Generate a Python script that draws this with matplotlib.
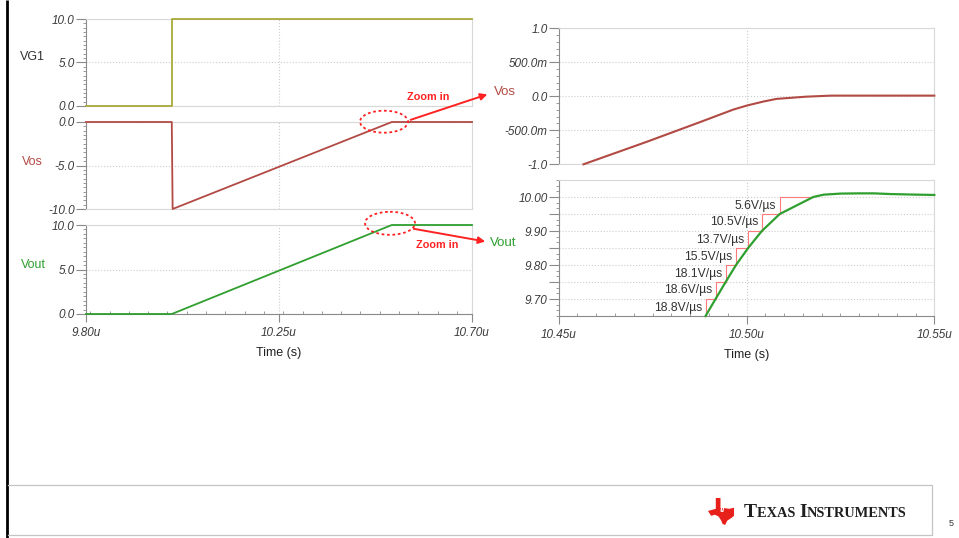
import numpy as np
import matplotlib
matplotlib.use("Agg")
import matplotlib.pyplot as plt
from matplotlib.patches import Ellipse, Polygon, FancyArrowPatch
from matplotlib.ticker import MultipleLocator

plt.rcParams['font.family'] = ['Liberation Sans', 'DejaVu Sans']

# ---------------- data (time in microseconds) ----------------
# full transient
t_vg1 = [9.80, 10.00, 10.00, 10.70]
vg1 = [0.0, 0.0, 10.0, 10.0]

t_vos = [9.80, 10.00, 10.002, 10.513, 10.70]
vos = [0.0, 0.0, -10.0, 0.0, 0.0]

t_vout = [9.80, 10.00, 10.513, 10.70]
vout = [0.0, 0.0, 10.0, 10.0]

# zoomed Vos around the end of the ramp
t_vos_zoom = [10.4566, 10.4734, 10.4876, 10.4965, 10.5001, 10.5045, 10.5080,
              10.5160, 10.5226, 10.5300, 10.5500]
vos_zoom = [-1.0, -0.67, -0.38, -0.195, -0.136, -0.077, -0.038,
            -0.005, 0.010, 0.010, 0.010]

# zoomed Vout: slew rate measured in each 50 mV band from 9.65 V to 10.00 V
vout_start_t = 10.4891
band_levels = [9.65, 9.70, 9.75, 9.80, 9.85, 9.90, 9.95, 10.00]
slew_rates = [18.8, 18.6, 18.1, 15.5, 13.7, 10.5, 5.6]       # V/us
slew_labels = ["18.8V/µs", "18.6V/µs", "18.1V/µs", "15.5V/µs",
               "13.7V/µs", "10.5V/µs", "5.6V/µs"]
# settling tail after reaching 10 V
t_tail = [10.5205, 10.5250, 10.5300, 10.5340, 10.5382, 10.5450, 10.5500]
v_tail = [10.0068, 10.0100, 10.0107, 10.0107, 10.0087, 10.0070, 10.0060]

# crossing times of each level, derived from the band slew rates
t_cross = [vout_start_t]
for i, sr in enumerate(slew_rates):
    dv = band_levels[i + 1] - band_levels[i]
    t_cross.append(t_cross[-1] + dv / sr)
t_vout_zoom = t_cross + t_tail
vout_zoom = band_levels + v_tail

# ---------------- styling ----------------
C_VG1 = '#a9a93a'
C_VOS = '#b24a44'
C_VOUT = '#2f9f2f'
C_RED = '#ff2222'
C_TXT = '#3a3a3a'
C_SPINE = '#8a8a8a'
C_FRAME = '#d8d8d8'
C_GRID = '#cdcdcd'
TICK_FS = 8.5

W, H = 959, 538
fig = plt.figure(figsize=(W / 100, H / 100), dpi=100)


def px_axes(x0, y0, x1, y1):
    return fig.add_axes([x0 / W, 1 - y1 / H, (x1 - x0) / W, (y1 - y0) / H])


def style(ax, show_x):
    for s in ('top', 'right'):
        ax.spines[s].set_color(C_FRAME)
        ax.spines[s].set_linewidth(0.8)
    for s in ('left', 'bottom'):
        ax.spines[s].set_color(C_SPINE if (s == 'left' or show_x) else C_FRAME)
        ax.spines[s].set_linewidth(0.8)
    ax.grid(True, which='major', color=C_GRID, linestyle=':', linewidth=0.8)
    ax.tick_params(axis='y', which='major', direction='out', length=7, width=0.8,
                   color=C_SPINE, pad=1, labelsize=TICK_FS, labelcolor=C_TXT)
    ax.tick_params(axis='y', which='minor', direction='out', length=2.5, width=0.6,
                   color=C_SPINE)
    if show_x:
        ax.tick_params(axis='x', which='major', direction='out', length=6, width=0.8,
                       color=C_SPINE, pad=3, labelsize=TICK_FS, labelcolor=C_TXT)
        ax.tick_params(axis='x', which='minor', direction='in', length=2.5, width=0.6,
                       color=C_SPINE)
    else:
        ax.tick_params(axis='x', which='both', length=0, labelbottom=False)
    for lab in ax.get_yticklabels() + ax.get_xticklabels():
        lab.set_fontstyle('italic')


def trace(ax, t, v, color, lw):
    ax.plot(t, v, color=color, lw=lw, clip_on=False, zorder=5)


# ---- left column: full transient ----
ax1 = px_axes(86, 19, 472, 106)
trace(ax1, t_vg1, vg1, C_VG1, 1.3)
ax1.set_xlim(9.80, 10.70)
ax1.set_ylim(0, 10)
ax1.set_xticks([10.25])
ax1.set_yticks([0, 5, 10], ['0.0', '5.0', '10.0'])
ax1.yaxis.set_minor_locator(MultipleLocator(0.5))
style(ax1, False)

ax2 = px_axes(86, 122, 472, 209)
trace(ax2, t_vos, vos, C_VOS, 1.3)
ax2.set_xlim(9.80, 10.70)
ax2.set_ylim(-10, 0)
ax2.set_xticks([10.25])
ax2.set_yticks([-10, -5, 0], ['-10.0', '-5.0', '0.0'])
ax2.yaxis.set_minor_locator(MultipleLocator(0.5))
style(ax2, False)

ax3 = px_axes(86, 225, 472, 314)
trace(ax3, t_vout, vout, C_VOUT, 1.3)
ax3.set_xlim(9.80, 10.70)
ax3.set_ylim(0, 10)
ax3.set_xticks([9.80, 10.25, 10.70], ['9.80u', '10.25u', '10.70u'])
ax3.xaxis.set_minor_locator(MultipleLocator(0.045))
ax3.set_yticks([0, 5, 10], ['0.0', '5.0', '10.0'])
ax3.yaxis.set_minor_locator(MultipleLocator(0.5))
style(ax3, True)
ax3.set_xlabel('Time (s)', fontsize=9, color='#222222', labelpad=6)

# ---- right column: zoom on the end of the ramp ----
ax4 = px_axes(558.7, 28.3, 934.3, 164.3)
trace(ax4, t_vos_zoom, vos_zoom, C_VOS, 1.5)
ax4.set_xlim(10.45, 10.55)
ax4.set_ylim(-1.0, 1.0)
ax4.set_xticks([10.50])
ax4.set_yticks([-1.0, -0.5, 0.0, 0.5, 1.0],
               ['-1.0', '-500.0m', '0.0', '500.0m', '1.0'])
ax4.yaxis.set_minor_locator(MultipleLocator(0.1))
style(ax4, False)

ax5 = px_axes(558.7, 180, 934.3, 316)
# slew-rate staircase
for i, lab in enumerate(slew_labels):
    t0, t1 = t_cross[i], t_cross[i + 1]
    lo, hi = band_levels[i], band_levels[i + 1]
    ax5.plot([t0, t0, t1], [lo, hi, hi], color='#ff7a7a', lw=0.8, zorder=3)
    ax5.text(t0 - 0.0009, (lo + hi) / 2, lab, ha='right', va='center',
             fontsize=8.7, color='#333333', zorder=4)
trace(ax5, t_vout_zoom, vout_zoom, C_VOUT, 1.6)
ax5.set_xlim(10.45, 10.55)
ax5.set_ylim(9.65, 10.05)
ax5.set_xticks([10.45, 10.50, 10.55], ['10.45u', '10.50u', '10.55u'])
ax5.xaxis.set_minor_locator(MultipleLocator(0.005))
ax5.set_yticks([9.70, 9.75, 9.80, 9.85, 9.90, 9.95, 10.00],
               ['9.70', '', '9.80', '', '9.90', '', '10.00'])
ax5.yaxis.set_minor_locator(MultipleLocator(0.1 / 6))
style(ax5, True)
ax5.set_xlabel('Time (s)', fontsize=9, color='#222222', labelpad=6)

# ---------------- overlay: labels, call-outs, slide frame ----------------
ov = fig.add_axes([0, 0, 1, 1], zorder=10)
ov.set_xlim(0, W)
ov.set_ylim(H, 0)
ov.axis('off')
ov.patch.set_alpha(0)

ov.text(32, 57, 'VG1', ha='center', va='center', fontsize=9, color='#333333')
ov.text(32, 162, 'Vos', ha='center', va='center', fontsize=9, color=C_VOS)
ov.text(33, 265, 'Vout', ha='center', va='center', fontsize=9, color=C_VOUT)

# call-out to the Vos zoom
ov.add_patch(Ellipse((384, 121.7), 48, 22, fill=False, ec=C_RED, lw=1.3,
                     ls=(0, (1.5, 1.5))))
ov.add_patch(FancyArrowPatch((408, 120.7), (490, 93.5), arrowstyle='-|>',
                             mutation_scale=10, color=C_RED, lw=1.4))
ov.text(428, 97.5, 'Zoom in', ha='center', va='center', fontsize=7.8,
        fontweight='bold', color=C_RED)
ov.text(494, 92, 'Vos', ha='left', va='center', fontsize=9.5, color=C_VOS)

# call-out to the Vout zoom
ov.add_patch(Ellipse((390, 223.3), 50, 23, fill=False, ec=C_RED, lw=1.3,
                     ls=(0, (1.5, 1.5))))
ov.add_patch(FancyArrowPatch((411, 228.3), (488, 242), arrowstyle='-|>',
                             mutation_scale=10, color=C_RED, lw=1.4))
ov.text(437, 244.5, 'Zoom in', ha='center', va='center', fontsize=7.8,
        fontweight='bold', color=C_RED)
ov.text(490, 243, 'Vout', ha='left', va='center', fontsize=9.5, color=C_VOUT)

# slide frame: left rule and footer box
ov.plot([7, 7], [0, H], color='black', lw=2, solid_capstyle='butt')
ov.plot([8, 932, 932, 8], [485, 485, 535, 535], color='#c4c4c4', lw=0.9)

# logo mark
tx = np.array([[0.30, 0.00], [0.48, 0.00], [0.48, 0.34], [0.66, 0.38],
               [0.82, 0.40], [1.00, 0.36], [1.00, 0.66], [0.90, 0.74],
               [0.74, 0.84], [0.66, 1.00], [0.56, 0.96], [0.50, 0.82],
               [0.40, 0.68], [0.26, 0.62], [0.12, 0.66], [0.00, 0.48],
               [0.30, 0.40]])
tx[:, 0] = 708 + tx[:, 0] * 26
tx[:, 1] = 498 + tx[:, 1] * 27
ov.add_patch(Polygon(tx, closed=True, fc='#e8201c', ec='none'))
ov.text(722, 510, 'ti', ha='center', va='center', fontsize=6.5,
        fontweight='bold', fontstyle='italic', color='white')

# company name in small caps
fig.canvas.draw()
rend = fig.canvas.get_renderer()
x = 744.0
for piece, size in [('T', 14), ('EXAS ', 10.4), ('I', 14), ('NSTRUMENTS', 10.4)]:
    t = ov.text(x, 517, piece, ha='left', va='baseline', fontsize=size,
                family='Liberation Serif', fontweight='bold', color='#1e1e1e')
    bb = t.get_window_extent(renderer=rend)
    x += bb.width

ov.text(951, 523, '5', ha='center', va='center', fontsize=6.5, color='#333333')

fig.savefig('out.png', dpi=100)
